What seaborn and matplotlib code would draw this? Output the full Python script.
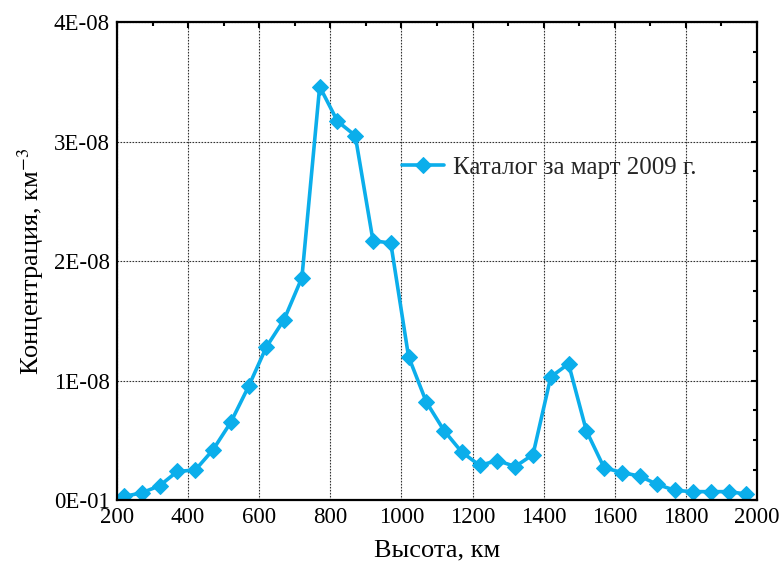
import matplotlib
matplotlib.use("Agg")
import matplotlib.pyplot as plt
from matplotlib.ticker import MultipleLocator, FixedLocator, FixedFormatter
import seaborn as sns
import pandas as pd

# ── Data ─────────────────────────────────────────────────────────────────────
heights = [220, 270, 320, 370, 420, 470, 520, 570, 620, 670, 720, 770,
           820, 870, 920, 970, 1020, 1070, 1120, 1170, 1220, 1270, 1320, 1370,
           1420, 1470, 1520, 1570, 1620, 1670, 1720, 1770, 1820, 1870, 1920, 1970]
conc = [0.03, 0.06, 0.12, 0.24, 0.25, 0.42, 0.65, 0.95, 1.28, 1.51, 1.86, 3.46,
        3.17, 3.05, 2.17, 2.15, 1.20, 0.82, 0.58, 0.40, 0.29, 0.33, 0.28, 0.38,
        1.03, 1.14, 0.58, 0.27, 0.23, 0.20, 0.13, 0.08, 0.07, 0.07, 0.07, 0.05]
conc = [v * 1e-8 for v in conc]
series_label = "Каталог за март 2009 г."

y_ticks = [0, 1e-8, 2e-8, 3e-8, 4e-8]
y_tick_labels = ["0E-01", "1E-08", "2E-08", "3E-08", "4E-08"]

df = pd.DataFrame({"h": heights, "c": conc})

# ── Style ────────────────────────────────────────────────────────────────────
sns.set_theme(style="white")
plt.rcParams.update({
    "font.family": ["Liberation Serif", "DejaVu Serif"],
    "mathtext.fontset": "stix",
    "axes.edgecolor": "black",
    "axes.linewidth": 1.6,
    "xtick.direction": "in",
    "ytick.direction": "in",
})

LINE_COLOR = "#0BAEEB"

fig = plt.figure(figsize=(7.8, 5.66), dpi=100)
ax = fig.add_axes([0.15, 0.1166, 0.8205, 0.8445])

sns.lineplot(data=df, x="h", y="c", ax=ax, color=LINE_COLOR, linewidth=2.6,
             marker="D", markersize=8, markeredgecolor=LINE_COLOR,
             label=series_label)

ax.set_xlim(200, 2000)
ax.set_ylim(0, 4e-8)
ax.xaxis.set_major_locator(MultipleLocator(200))
ax.xaxis.set_minor_locator(MultipleLocator(100))
ax.yaxis.set_major_locator(FixedLocator(y_ticks))
ax.yaxis.set_major_formatter(FixedFormatter(y_tick_labels))
ax.yaxis.set_minor_locator(MultipleLocator(0.25e-8))

ax.tick_params(which="both", top=True, right=True, colors="black",
               labelsize=16.5, width=1.5)
ax.tick_params(which="major", length=4, pad=5)
ax.tick_params(which="minor", length=3)

ax.grid(True, which="major", color="#333333", linestyle=(0, (1.5, 1.2)),
        linewidth=0.8)

ax.set_xlabel("Высота, км", fontsize=19, color="black", labelpad=8)
ax.set_ylabel("Концентрация, км$^{-3}$", fontsize=19, color="black", labelpad=6)

ax.legend(loc="center left", bbox_to_anchor=(0.41, 0.695), frameon=False,
          fontsize=18, handlelength=1.7, handletextpad=0.35)

fig.savefig("out.png", dpi=100)
